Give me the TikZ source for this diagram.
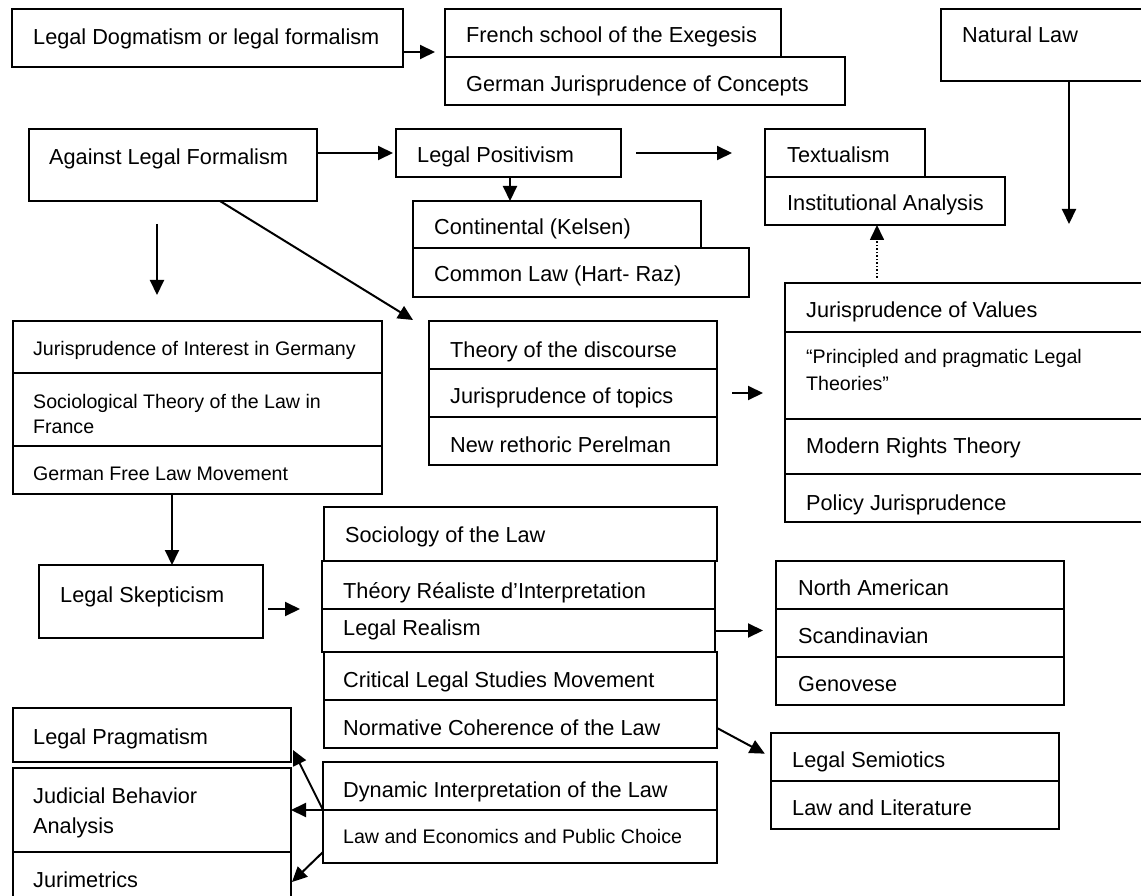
\documentclass[tikz,border=0pt]{standalone}
\usepackage{fontspec}
\setmainfont{Liberation Sans}
\usetikzlibrary{arrows.meta,calc}
\begin{document}
\begin{tikzpicture}[x=1pt,y=-1pt,
  box/.style={draw, line width=2pt, inner sep=0pt, outer sep=0pt, anchor=north west},
  lbl/.style={anchor=base west, inner sep=0pt, font=\fontsize{21.7}{25}\selectfont},
  lblsm/.style={lbl, font=\fontsize{19.6}{24}\selectfont},
  link/.style={line width=2pt, -{Triangle[length=15pt,width=14pt]}},
  dots/.style={line width=1.7pt, dash pattern=on 1.5pt off 2pt}
]
\useasboundingbox (0,0) rectangle (1141,896);
\fill[white] (0,0) rectangle (1141,896);
\clip (0,0) rectangle (1141,896);

% ---------- boxes ----------
\node[box, minimum width=391pt, minimum height=58pt] (dogma) at (12,9) {};
\node[box, minimum width=336pt, minimum height=48pt] (french) at (445,9) {};
\node[box, minimum width=400pt, minimum height=48pt] (german) at (445,57) {};
\node[box, minimum width=229pt, minimum height=72pt] (natural) at (941,9) {};

\node[box, minimum width=288pt, minimum height=72pt] (against) at (29,129) {};
\node[box, minimum width=225pt, minimum height=48pt] (posit) at (396,129) {};
\node[box, minimum width=160pt, minimum height=48pt] (textual) at (765,129) {};
\node[box, minimum width=240pt, minimum height=48pt] (inst) at (765,177) {};
\node[box, minimum width=288pt, minimum height=47pt] (conti) at (413,201) {};
\node[box, minimum width=336pt, minimum height=49pt] (common) at (413,248) {};

\node[box, minimum width=385pt, minimum height=49pt] (values) at (785,283) {};
\node[box, minimum width=385pt, minimum height=87pt] (principled) at (785,332) {};
\node[box, minimum width=385pt, minimum height=55pt] (rights) at (785,419) {};
\node[box, minimum width=385pt, minimum height=48pt] (policy) at (785,474) {};

\node[box, minimum width=369pt, minimum height=52pt] (interest) at (13,321) {};
\node[box, minimum width=369pt, minimum height=73pt] (sociol) at (13,373) {};
\node[box, minimum width=369pt, minimum height=48pt] (freelaw) at (13,446) {};

\node[box, minimum width=288pt, minimum height=48pt] (discourse) at (429,321) {};
\node[box, minimum width=288pt, minimum height=48pt] (topics) at (429,369) {};
\node[box, minimum width=288pt, minimum height=48pt] (rethoric) at (429,417) {};

\node[box, minimum width=393pt, minimum height=54pt] (sociolaw) at (324,507) {};
\node[box, minimum width=393pt, minimum height=48pt] (theory) at (322,561) {};
\node[box, minimum width=393pt, minimum height=43pt] (realism) at (322,609) {};
\node[box, minimum width=393pt, minimum height=48pt] (critical) at (324,652) {};
\node[box, minimum width=393pt, minimum height=48pt] (normative) at (324,700) {};
\node[box, minimum width=394pt, minimum height=48pt] (dynamic) at (323,762) {};
\node[box, minimum width=394pt, minimum height=53pt] (lawecon) at (323,810) {};

\node[box, minimum width=224pt, minimum height=73pt] (skep) at (39,565) {};

\node[box, minimum width=288pt, minimum height=48pt] (northam) at (776,561) {};
\node[box, minimum width=288pt, minimum height=48pt] (scand) at (776,609) {};
\node[box, minimum width=288pt, minimum height=48pt] (genov) at (776,657) {};
\node[box, minimum width=288pt, minimum height=48pt] (semiot) at (771,733) {};
\node[box, minimum width=288pt, minimum height=48pt] (literature) at (771,781) {};

\node[box, minimum width=278pt, minimum height=54pt] (pragm) at (13,708) {};
\node[box, minimum width=278pt, minimum height=84pt] (judicial) at (13,768) {};
\node[box, minimum width=278pt, minimum height=63pt] (jurim) at (13,852) {};

% ---------- labels ----------
\node[lbl] (t-dogma) at (33,45) {Legal Dogmatism or legal formalism};
\node[lbl] (t-french) at (466,43) {French school of the Exegesis};
\node[lbl] (t-german) at (466,92) {German Jurisprudence of Concepts};
\node[lbl] (t-natural) at (962,43) {Natural Law};
\node[lbl] (t-against) at (49,165) {Against Legal Formalism};
\node[lbl] (t-posit) at (417,163) {Legal Positivism};
\node[lbl] (t-textual) at (787,163) {Textualism};
\node[lbl] (t-inst) at (787,211) {Institutional Analysis};
\node[lbl] (t-conti) at (434,235) {Continental (Kelsen)};
\node[lbl] (t-common) at (434,282) {Common Law (Hart- Raz)};
\node[lbl] (t-values) at (806,317) {Jurisprudence of Values};
\node[lblsm] (t-princ1) at (806,363) {“Principled and pragmatic Legal};
\node[lblsm] (t-princ2) at (806,390) {Theories”};
\node[lbl] (t-rights) at (806,453) {Modern Rights Theory};
\node[lbl] (t-policy) at (806,510) {Policy Jurisprudence};
\node[lblsm] (t-interest) at (33,355) {Jurisprudence of Interest in Germany};
\node[lblsm] (t-sociol1) at (33,408) {Sociological Theory of the Law in};
\node[lblsm] (t-sociol2) at (33,433) {France};
\node[lblsm] (t-freelaw) at (33,480) {German Free Law Movement};
\node[lbl] (t-discourse) at (450,357) {Theory of the discourse};
\node[lbl] (t-topics) at (450,403) {Jurisprudence of topics};
\node[lbl] (t-rethoric) at (450,452) {New rethoric Perelman};
\node[lbl] (t-sociolaw) at (345,542) {Sociology of the Law};
\node[lbl] (t-theory) at (343,598) {Théory Réaliste d’Interpretation};
\node[lbl] (t-realism) at (343,635) {Legal Realism};
\node[lbl] (t-skep) at (60,602) {Legal Skepticism};
\node[lbl] (t-northam) at (798,595) {North American};
\node[lbl] (t-scand) at (798,643) {Scandinavian};
\node[lbl] (t-genov) at (798,691) {Genovese};
\node[lbl] (t-critical) at (343,687) {Critical Legal Studies Movement};
\node[lbl] (t-normative) at (343,735) {Normative Coherence of the Law};
\node[lbl] (t-dynamic) at (343,797) {Dynamic Interpretation of the Law};
\node[lblsm] (t-lawecon) at (343,843) {Law and Economics and Public Choice};
\node[lbl] (t-semiot) at (792,767) {Legal Semiotics};
\node[lbl] (t-literature) at (792,815) {Law and Literature};
\node[lbl] (t-pragm) at (33,744) {Legal Pragmatism};
\node[lbl] (t-judicial1) at (33,803) {Judicial Behavior};
\node[lbl] (t-judicial2) at (33,833) {Analysis};
\node[lbl] (t-jurim) at (33,887) {Jurimetrics};

% ---------- connectors ----------
\draw[link, shorten >=10pt] ($(dogma.east)+(0,14)$) -- ($(french.west |- dogma.east)+(0,14)$);
\draw[link, shorten >=3pt] (against.east |- posit.west) -- (posit.west);
\draw[link, shorten <=23pt, shorten >=26pt] ($(against.south west)+(128,0)$) coordinate (a1) -- (a1 |- interest.north);
\draw[link] ($(against.south west)!0.663!(against.south east)$) -- ($(discourse.north west)+(-16,-1)$);
\draw[link] ($(posit.south west)+(114,0)$) coordinate (p1) -- (p1 |- conti.north);
\draw[link, shorten <=15pt, shorten >=33pt] (posit.east) -- (posit.east -| textual.west);
\draw[link, shorten >=59pt] ($(natural.south west)+(128,0)$) coordinate (n1) -- (n1 |- values.north);
\draw[link, dots, shorten <=5pt] ($(values.north west)+(92,0)$) -- ($(inst.south west)+(112,0)$);
\draw[link, shorten <=15pt, shorten >=22pt] (topics.east) -- (topics.east -| principled.west);
\draw[link] ($(freelaw.south west)+(159,0)$) coordinate (f1) -- (f1 |- skep.north);
\draw[link, shorten <=5pt, shorten >=22pt] (skep.east |- realism.north) -- (realism.north west);
\draw[link, shorten >=13pt] (realism.east) -- (realism.east -| scand.west);
\draw[link, shorten >=7pt] ($(normative.east)+(0,4)$) -- (semiot.west);
\draw[link] (dynamic.south west) -- ($(pragm.south east)+(2,-12)$);
\draw[link] (dynamic.south west) -- (judicial.east);
\draw[link] ($(lawecon.south west)+(0,-11)$) -- ($(jurim.north east)+(1,30)$);
\end{tikzpicture}
\end{document}
